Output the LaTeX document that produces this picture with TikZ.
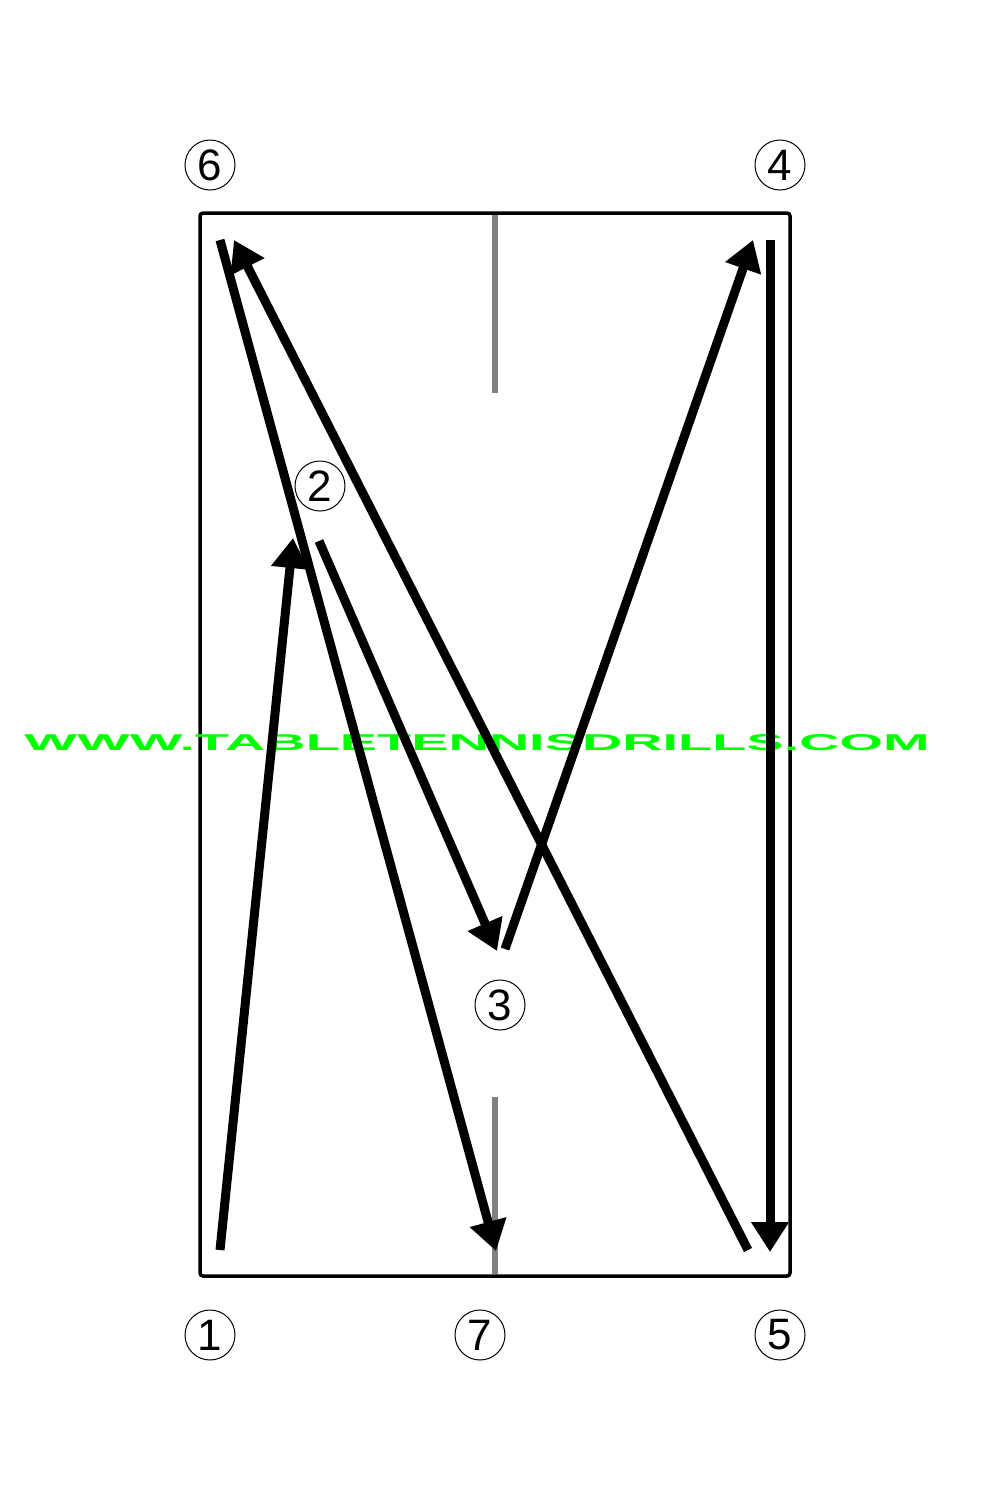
\documentclass[tikz,border=0pt]{standalone}
\usepackage{fontspec}
\setmainfont{Liberation Sans}
\usetikzlibrary{arrows.meta}
\definecolor{wmgreen}{HTML}{00FF00}
\definecolor{netgray}{HTML}{808080}
\tikzset{
  num/.style={circle,draw,line width=1pt,minimum size=50pt,inner sep=0pt,font=\fontsize{44}{44}\selectfont},
  shot/.style={line width=9pt,-{Triangle[length=30pt,width=36pt]}},
  tbl/.style={line width=3.5pt,rounded corners=3pt},
  net/.style={line width=6pt,netgray}
}
\begin{document}
\begin{tikzpicture}[x=1pt,y=-1pt]
\useasboundingbox (0,0) rectangle (1000,1500);
% table
\draw[tbl] (200,213) rectangle (790,1276);
\draw[net] (495,215) -- (495,393);
\draw[net] (495,1097) -- (495,1274);
% watermark
\node[wmgreen,inner sep=0pt] (wm) at (477,743) {\resizebox{905pt}{16pt}{\bfseries WWW.TABLETENNISDRILLS.COM}};
% numbers
\node[num] (n6) at (210,165) {6};
\node[num] (n4) at (780,165) {4};
\node[num] (n2) at (320,486) {2};
\node[num] (n3) at (500,1005) {3};
\node[num] (n1) at (210,1335) {1};
\node[num] (n7) at (480,1335) {7};
\node[num] (n5) at (780,1335) {5};
% shot coordinates
\coordinate (s1) at (220,1250);
\coordinate (e1) at (293,538);
\coordinate (s2) at (319,541);
\coordinate (e2) at (497,951);
\coordinate (s3) at (505,949);
\coordinate (e3) at (753,240);
\coordinate (s4) at (770,240);
\coordinate (e4) at (770,1252);
\coordinate (s5) at (748,1250);
\coordinate (e5) at (234,240);
\coordinate (s6) at (220,240);
\coordinate (e6) at (496,1251);
% shots
\draw[shot] (s1) -- (e1);
\draw[shot] (s2) -- (e2);
\draw[shot] (s3) -- (e3);
\draw[shot] (s4) -- (e4);
\draw[shot] (s5) -- (e5);
\draw[shot] (s6) -- (e6);
\end{tikzpicture}
\end{document}
